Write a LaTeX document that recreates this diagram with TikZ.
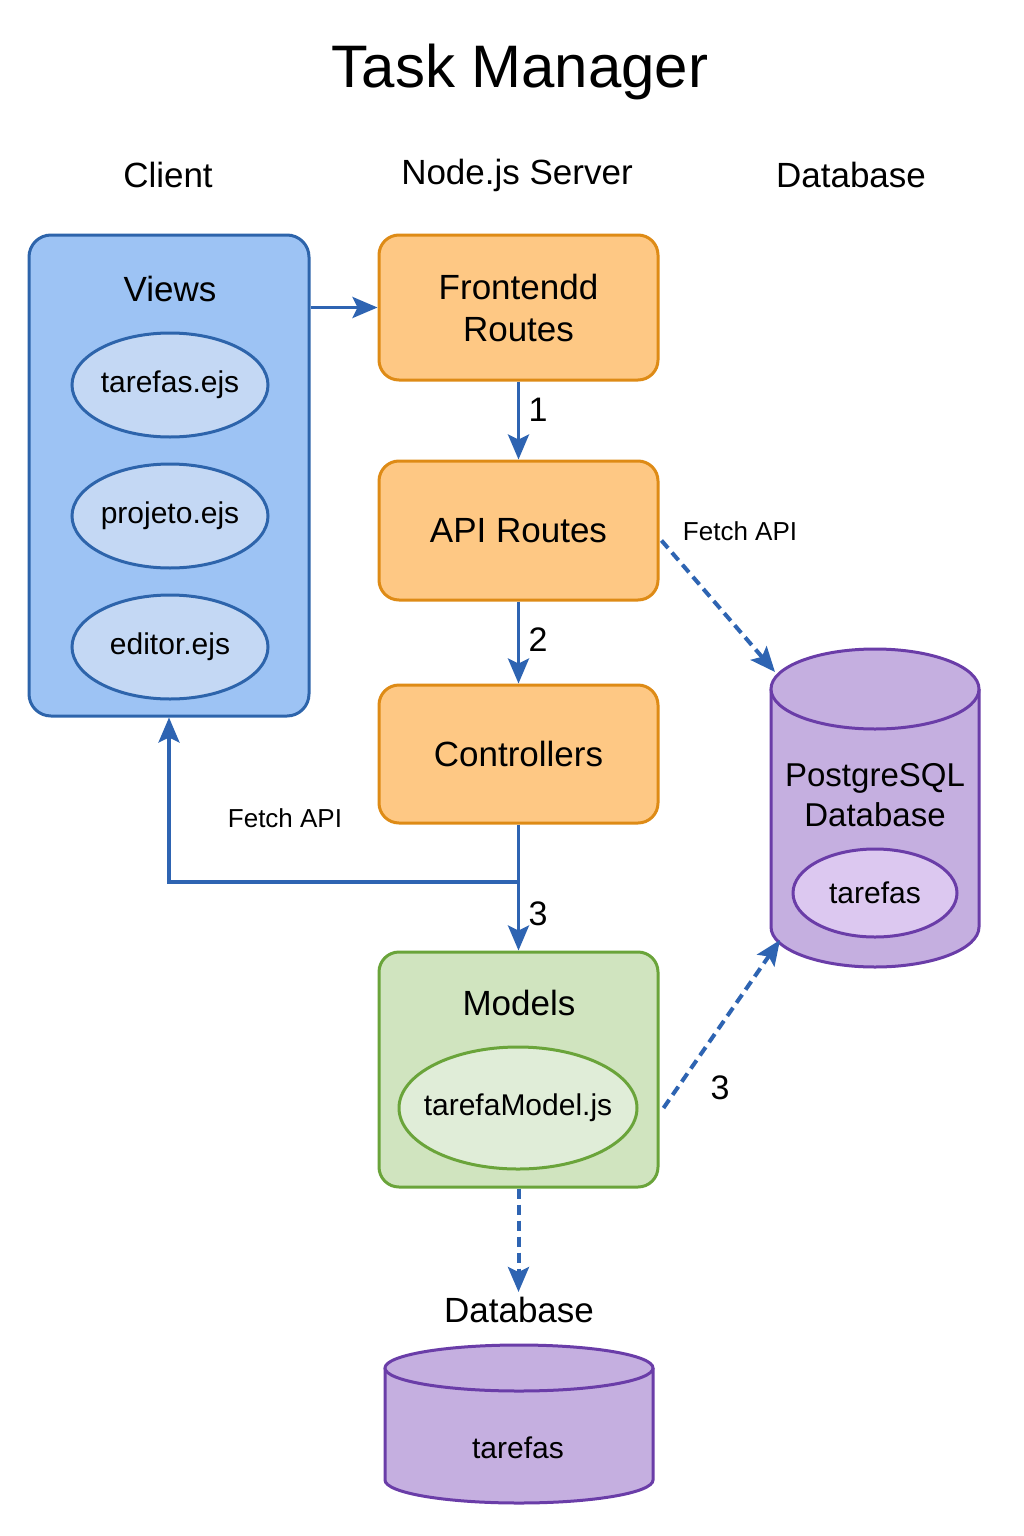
\documentclass[tikz,border=0pt]{standalone}
\usepackage{fontspec}
\setmainfont{Liberation Sans}
\usetikzlibrary{arrows.meta,calc,shapes.geometric}
\definecolor{vblue}{HTML}{9DC3F4}
\definecolor{vbluedk}{HTML}{2D64AB}
\definecolor{vell}{HTML}{C4D8F4}
\definecolor{ofill}{HTML}{FEC884}
\definecolor{odraw}{HTML}{DE8B16}
\definecolor{gfill}{HTML}{D0E4BF}
\definecolor{gdraw}{HTML}{6AA43A}
\definecolor{gell}{HTML}{E0EDD8}
\definecolor{pfill}{HTML}{C5AFE0}
\definecolor{pdraw}{HTML}{6A3DA8}
\definecolor{pell}{HTML}{DCC8F0}
\definecolor{arrblue}{HTML}{2E64B2}
\tikzset{
  box/.style={draw=odraw, fill=ofill, line width=3pt, rounded corners=20pt,
    minimum width=279pt, align=center, font=\fontsize{35}{42}\selectfont},
  viewell/.style={ellipse, draw=vbluedk, fill=vell, line width=3pt,
    minimum width=196pt, minimum height=104pt, inner sep=0pt},
  eltext/.style={font=\fontsize{30}{36}\selectfont, inner sep=0pt},
  lbl/.style={font=\fontsize{35}{42}\selectfont, inner sep=0pt},
  small/.style={font=\fontsize{26}{31}\selectfont, inner sep=0pt},
  num/.style={font=\fontsize{34}{40}\selectfont, inner sep=0pt},
  arr/.style={draw=arrblue, line width=3.5pt, -{Stealth[length=25pt,width=21pt,inset=5pt]}},
  darr/.style={arr, line width=4pt, dash pattern=on 10pt off 6pt}
}
\begin{document}
\begin{tikzpicture}[x=1pt,y=-1pt]
\useasboundingbox[fill=white] (0,0) rectangle (1024,1536);
% title and headers
\node[font=\fontsize{60}{72}\selectfont, inner sep=0pt] (title) at (520,72) {Task Manager};
\node[lbl] (hclient) at (168,175) {Client};
\node[lbl] (hserver) at (517,175) {Node.js Server};
\node[lbl] (hdb) at (851,175) {Database};
% Views
\node[draw=vbluedk, fill=vblue, line width=3pt, rounded corners=22pt,
  minimum width=280pt, minimum height=481pt, inner sep=0pt] (views) at (169,475.5) {};
\node[lbl] (viewslbl) at (170,289) {Views};
\node[viewell] (e1) at (170,385) {};
\node[eltext] (e1t) at (e1) {tarefas.ejs};
\node[viewell] (e2) at (170,516) {};
\node[eltext] (e2t) at (e2) {projeto.ejs};
\node[viewell] (e3) at (170,647) {};
\node[eltext] (e3t) at (e3) {editor.ejs};
% server boxes
\node[box, minimum height=145pt] (front) at (518.5,307.5) {Frontendd\\Routes};
\node[box, minimum height=139pt] (api) at (518.5,530.5) {API Routes};
\node[box, minimum height=138pt] (ctrl) at (518.5,754) {Controllers};
% Models
\node[draw=gdraw, fill=gfill, line width=3pt, rounded corners=20pt,
  minimum width=279pt, minimum height=235pt, inner sep=0pt] (models) at (518.5,1069.5) {};
\node[lbl] (modelslbl) at (519,1003) {Models};
\node[ellipse, draw=gdraw, fill=gell, line width=3pt, minimum width=238pt, minimum height=122pt,
  inner sep=0pt] (tm) at (518,1108) {};
\node[eltext] (tmt) at (tm) {tarefaModel.js};
% PostgreSQL cylinder
\fill[pfill] (771,689) rectangle (979,927);
\fill[pfill] (875,927) ellipse [x radius=104, y radius=40];
\draw[pdraw, line width=3pt] (771,689) -- (771,927) arc[start angle=180, end angle=0, x radius=104, y radius=40] -- (979,689);
\draw[pdraw, fill=pfill, line width=3pt] (875,689) ellipse [x radius=104, y radius=40];
\node[inner sep=0pt, minimum width=208pt, minimum height=318pt] (pg) at (875,808) {};
\node[font=\fontsize{33}{40}\selectfont, align=center, inner sep=0pt] (pglbl) at (875,795) {PostgreSQL\\Database};
\node[ellipse, draw=pdraw, fill=pell, line width=3pt, minimum width=164pt, minimum height=88pt,
  inner sep=0pt] (pgt) at (875,893) {};
\node[eltext] (pgtt) at (pgt) {tarefas};
% bottom cylinder
\node[lbl] (dblbl) at (519,1310) {Database};
\fill[pfill] (385,1368) rectangle (653,1480);
\fill[pfill] (519,1480) ellipse [x radius=134, y radius=23];
\draw[pdraw, line width=3pt] (385,1368) -- (385,1480) arc[start angle=180, end angle=0, x radius=134, y radius=23] -- (653,1368);
\draw[pdraw, fill=pfill, line width=3pt] (519,1368) ellipse [x radius=134, y radius=23];
\node[eltext] (bt) at (518,1448) {tarefas};
% coordinates
\coordinate (br) at (518.5,882);
\coordinate (pgtl) at (775,672);
\coordinate (pgbl) at (780,940);
\coordinate (dbtop) at (518.5,1292);
% connectors
\draw[arr] (views.east |- front.west) -- (front.west);
\draw[arr] (front.south) -- (api.north);
\node[num] (n1) at (538,410) {1};
\draw[arr] (api.south) -- (ctrl.north);
\node[num] (n2) at (538,640) {2};
\draw[arr] (ctrl.south) -- (models.north);
\node[num] (n3) at (538,914) {3};
\draw[arr] (br) -| (views.south);
\node[small] (fetch1) at (285,818) {Fetch API};
\draw[darr] ($(api.east)+(2,10)$) -- (pgtl);
\node[small] (fetch2) at (740,531) {Fetch API};
\draw[darr] ($(models.east |- tm.center)+(4,0)$) -- (pgbl);
\node[num] (n3b) at (720,1088) {3};
\draw[darr] (models.south) -- (dbtop);
\end{tikzpicture}
\end{document}
